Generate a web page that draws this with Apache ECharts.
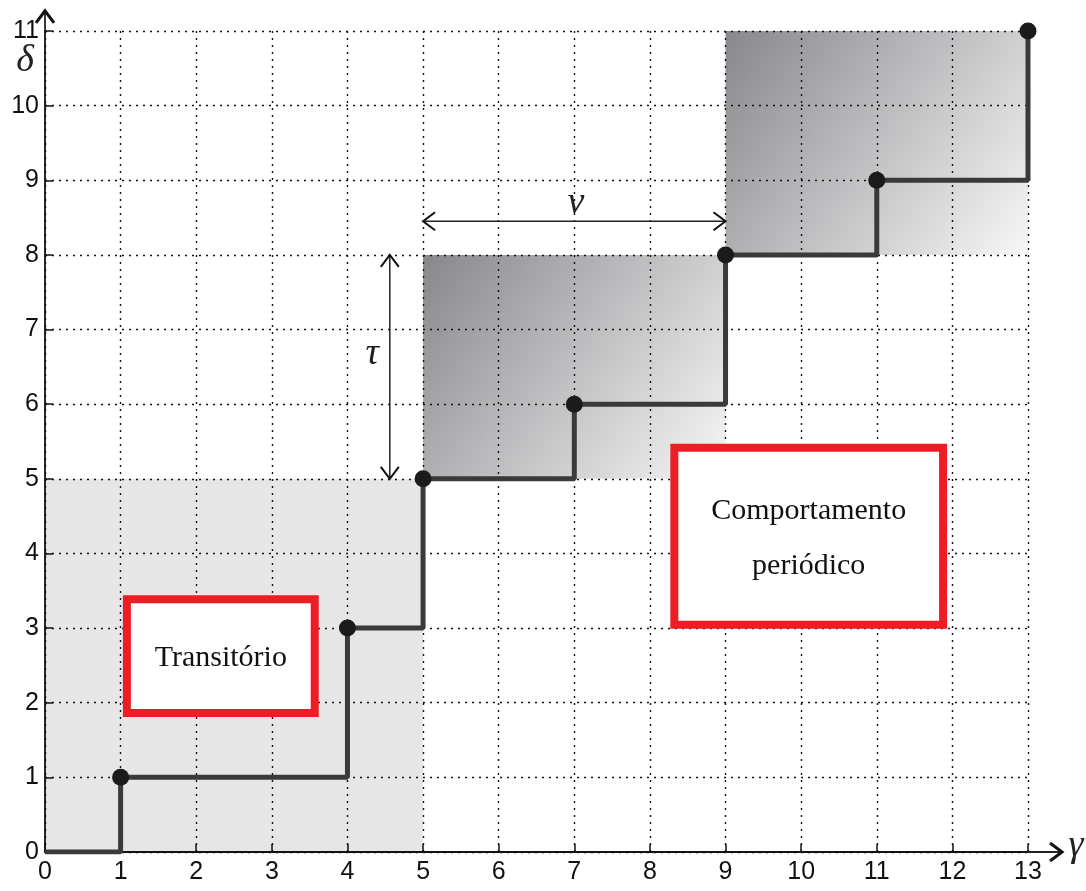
<!DOCTYPE html>
<html>
<head>
<meta charset="utf-8">
<script src="https://cdn.jsdelivr.net/npm/echarts@6/dist/echarts.min.js"></script>
<style>
  html, body { margin: 0; padding: 0; background: #fff; }
  #main { width: 1086px; height: 891px; }
</style>
</head>
<body>
<div id="main"></div>
<script>
// dados do gráfico
var stepX = [0, 1, 4, 5, 7, 9, 11, 13];
var stepY = [0, 1, 3, 5, 6, 8, 9, 11];
var dotX = [1, 4, 5, 7, 9, 11, 13];
var dotY = [1, 3, 5, 6, 8, 9, 11];
// regiões [x0, y0, x1, y1]
var transientRegion = [[0, 0, 5, 5]];
var periodicRegions = [[5, 5, 9, 8], [9, 8, 13, 11]];
var boxLabels = ['Transitório', 'Comportamento\nperiódico'];

var chart = echarts.init(document.getElementById('main'));
var SERIF = '"Liberation Serif", "DejaVu Serif", serif';

function pairs(xs, ys) {
  return xs.map(function (x, i) { return [x, ys[i]]; });
}

function rectItem(params, api, fill) {
  var p0 = api.coord([api.value(0), api.value(3)]);
  var p1 = api.coord([api.value(2), api.value(1)]);
  return {
    type: 'rect',
    shape: { x: p0[0], y: p0[1], width: p1[0] - p0[0], height: p1[1] - p0[1] },
    style: { fill: fill }
  };
}

// ponta de seta aberta
function chevron(tip, ux, uy, size, w) {
  var px = -uy, py = ux;
  return {
    type: 'polyline',
    shape: { points: [
      [tip[0] - ux * size + px * size * 0.75, tip[1] - uy * size + py * size * 0.75],
      tip,
      [tip[0] - ux * size - px * size * 0.75, tip[1] - uy * size - py * size * 0.75]
    ] },
    style: { stroke: '#111', lineWidth: w || 2, fill: null }
  };
}

function line(a, b, w) {
  return { type: 'line', shape: { x1: a[0], y1: a[1], x2: b[0], y2: b[1] },
    style: { stroke: '#222', lineWidth: w } };
}

function annotations(params, api) {
  var c = function (x, y) { return api.coord([x, y]); };
  var kids = [];
  // prolongamento dos eixos com setas
  kids.push(line(c(13, 0), c(13.45, 0), 1.8));
  kids.push(chevron(c(13.45, 0), 1, 0, 12, 3));
  kids.push(line(c(0, 11), c(0, 11.27), 1.8));
  kids.push(chevron(c(0, 11.27), 0, -1, 12, 3));
  // seta nu
  var a1 = c(5, 8.45), a2 = c(9, 8.45);
  kids.push(line(a1, a2, 1.5));
  kids.push(chevron(a1, -1, 0, 12, 2));
  kids.push(chevron(a2, 1, 0, 12, 2));
  // seta tau
  var b1 = c(4.56, 8), b2 = c(4.56, 5);
  kids.push(line(b1, b2, 1.5));
  kids.push(chevron(b1, 0, -1, 12, 2));
  kids.push(chevron(b2, 0, 1, 12, 2));
  // caixas vermelhas
  var boxes = [[1.03, 1.81, 3.62, 3.44], [8.27, 2.99, 11.93, 5.47]];
  boxes.forEach(function (b, i) {
    var p0 = c(b[0], b[3]), p1 = c(b[2], b[1]);
    kids.push({ type: 'rect',
      shape: { x: p0[0] + 4, y: p0[1] + 4, width: p1[0] - p0[0] - 8, height: p1[1] - p0[1] - 8 },
      style: { fill: '#fff', stroke: '#ee1c25', lineWidth: 8 } });
    kids.push({ type: 'text',
      style: { x: (p0[0] + p1[0]) / 2, y: (p0[1] + p1[1]) / 2 + 2, text: boxLabels[i],
        align: 'center', verticalAlign: 'middle', fill: '#111',
        fontSize: 30, fontFamily: SERIF, lineHeight: 55 } });
  });
  // rótulos gregos
  var greek = function (t, pt, size) {
    kids.push({ type: 'text', style: { x: pt[0], y: pt[1], text: t, align: 'center',
      verticalAlign: 'middle', fill: '#222', fontStyle: 'italic',
      fontSize: size, fontFamily: SERIF } });
  };
  greek('ν', c(7.02, 8.7), 38);
  greek('τ', c(4.33, 6.67), 38);
  var d = c(0, 11); greek('δ', [d[0] - 20, d[1] + 30], 38);
  var g = c(13.45, 0); greek('γ', [g[0] + 14, g[1] - 6], 38);
  return { type: 'group', children: kids };
}

var axisCommon = {
  type: 'value',
  interval: 1,
  axisLine: { show: true, lineStyle: { color: '#111', width: 1.8 } },
  axisTick: { show: true, inside: true, length: 8, lineStyle: { color: '#111', width: 1.5 } },
  axisLabel: { color: '#111', fontSize: 25, fontFamily: '"Liberation Sans", Arial, sans-serif' },
  splitLine: { show: true, lineStyle: { color: '#111', width: 1.4, type: [2, 5] } }
};

chart.setOption({
  animation: false,
  backgroundColor: '#fff',
  grid: { left: 45, right: 58, top: 31, bottom: 39 },
  xAxis: Object.assign({}, axisCommon, { min: 0, max: 13,
    axisLabel: Object.assign({}, axisCommon.axisLabel, { margin: 8 }) }),
  yAxis: Object.assign({}, axisCommon, { min: 0, max: 11,
    axisLabel: Object.assign({}, axisCommon.axisLabel, { margin: 6 }) }),
  series: [
    {
      type: 'custom', z: -2, silent: true,
      data: transientRegion,
      renderItem: function (params, api) { return rectItem(params, api, '#e6e6e6'); }
    },
    {
      type: 'custom', z: -2, silent: true,
      data: periodicRegions,
      renderItem: function (params, api) {
        return rectItem(params, api, new echarts.graphic.LinearGradient(0, 0, 1, 1, [
          { offset: 0, color: '#88888c' },
          { offset: 1, color: '#f7f7f7' }
        ]));
      }
    },
    {
      type: 'line', step: 'end', symbol: 'none', z: 3,
      data: pairs(stepX, stepY),
      lineStyle: { color: '#3a3a3a', width: 5 }
    },
    {
      type: 'scatter', z: 4, symbolSize: 17,
      data: pairs(dotX, dotY),
      itemStyle: { color: '#1b1b1b', opacity: 1 }
    },
    {
      type: 'custom', z: 5, silent: true,
      data: [[0, 0]],
      renderItem: annotations
    }
  ]
});
</script>
</body>
</html>
